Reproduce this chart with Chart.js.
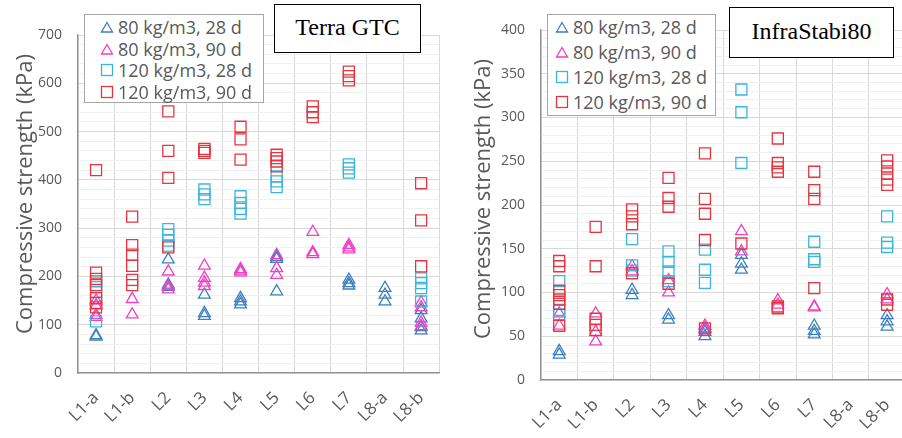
<!DOCTYPE html>
<html>
<head>
<meta charset="utf-8">
<title>Compressive strength - Terra GTC / InfraStabi80</title>
<script src="https://cdn.jsdelivr.net/npm/chart.js@4.4.1/dist/chart.umd.min.js"></script>
<style>
    html, body { margin: 0; padding: 0; background: #fff; }
    body { position: relative; width: 902px; height: 438px; overflow: hidden; }
    canvas { position: absolute; top: 0; }
    #gtc-canvas { left: 0; }
    #infra-canvas { left: 451px; }
    .legend {
        position: absolute; box-sizing: border-box; background: #fff;
        border: 1px solid #a6a6a6;
        font-family: 'Open Sans', sans-serif; font-size: 18px; color: #595959;
    }
    .legend .row { position: absolute; left: 0; height: 24px; line-height: 24px; white-space: nowrap; }
    .legend svg { position: absolute; top: 5px; }
    .legend span { position: absolute; top: 0; }
    .title-box {
        position: absolute; box-sizing: border-box; background: #fff;
        border: 1.5px solid #000; text-align: center;
        font-family: 'Liberation Serif', 'Times New Roman', serif; font-size: 24px; color: #000;
    }
    .axis-title {
        position: absolute; white-space: nowrap; line-height: 1;
        font-family: 'Open Sans', sans-serif; font-size: 22px; color: #595959;
        transform: translate(-50%, -50%) rotate(-90deg);
    }
</style>
</head>
<body>
<canvas id="gtc-canvas" width="451" height="438"></canvas>
<canvas id="infra-canvas" width="466" height="438"></canvas>

<div class="axis-title" style="left:23px; top:194px;">Compressive strength (kPa)</div>
<div class="axis-title" style="left:481px; top:199px;">Compressive strength (kPa)</div>
<div class="legend" id="gtc-legend" style="left:84px; top:14px; width:180px; height:89px;"></div>
<div class="legend" id="infra-legend" style="left:547px; top:14px; width:169px; height:102px;"></div>
<div class="title-box" style="left:274px; top:4px; width:147px; height:49px; line-height:45px;">Terra GTC</div>
<div class="title-box" style="left:729px; top:7px; width:165px; height:51px; line-height:47px;">InfraStabi80</div>

<script>
// categories (test locations) shared by both panels
const categories = ['L1-a', 'L1-b', 'L2', 'L3', 'L4', 'L5', 'L6', 'L7', 'L8-a', 'L8-b'];
const seriesLabels = ['80 kg/m3, 28 d', '80 kg/m3, 90 d', '120 kg/m3, 28 d', '120 kg/m3, 90 d'];

// Terra GTC, kPa - one list of readings per category
const gtc80d28 = [[78, 75], [], [235, 183, 178], [162, 124, 118], [155, 148, 142],
    [240, 236, 169], [], [193, 186, 181], [176, 162, 148], [130, 113, 95, 88]];
const gtc80d90 = [[150, 140, 120, 116], [153, 121], [210, 180, 173], [222, 197, 187, 180], [215, 212, 208],
    [244, 217, 203], [292, 250, 246], [265, 260, 256], [], [146, 136, 104, 97]];
const gtc120d28 = [[190, 178, 168, 107], [], [298, 286, 274, 264], [380, 370, 360], [366, 352, 340, 330],
    [407, 397, 385], [], [432, 424, 415], [], [196, 186, 176, 148]];
const gtc120d90 = [[420, 208, 195, 182, 155, 145, 136], [324, 265, 245, 222, 193, 182], [542, 460, 404, 260],
    [464, 460, 456], [510, 484, 442], [452, 445, 438, 428], [552, 540, 530], [624, 615, 606], [], [393, 316, 221]];

// InfraStabi80, kPa
const infra80d28 = [[33, 29], [], [103, 97], [74, 69], [58, 55, 50],
    [143, 133, 126], [], [62, 56, 52], [], [74, 67, 61]];
const infra80d90 = [[76, 62], [76, 55, 44], [130, 124], [114, 100], [62, 59],
    [170, 147], [91, 86], [84, 83], [], [98, 92]];
const infra120d28 = [[113, 80, 75], [], [161, 131, 125], [147, 135, 124, 113], [149, 126, 111],
    [332, 306, 248], [], [158, 138, 135], [], [187, 157, 152]];
const infra120d90 = [[136, 130, 102, 97, 92, 87, 62], [175, 130, 70, 63, 57], [195, 187, 178, 122],
    [231, 208, 198, 110], [259, 207, 190, 160, 59], [156], [276, 248, 243, 238, 84, 82],
    [238, 217, 207, 105], [], [251, 244, 236, 229, 223, 92, 86]];

const seriesColors = ['#3a80c0', '#f23ec5', '#39b6df', '#e8343f'];
const seriesShapes = ['triangle', 'triangle', 'rect', 'rect'];
const GREY_TEXT = '#595959';

function toPoints(lists) {
    const pts = [];
    lists.forEach((vals, i) => vals.forEach(v => pts.push({ x: categories[i], y: v })));
    return pts;
}

function markerSvg(shape, color) {
    const inner = shape === 'triangle'
        ? '<polygon points="7,2.5 12.5,12 1.5,12" fill="none" stroke="' + color + '" stroke-width="1.3"/>'
        : '<rect x="1.5" y="1.5" width="11" height="11" fill="none" stroke="' + color + '" stroke-width="1.3"/>';
    return '<svg width="14" height="14" viewBox="0 0 14 14">' + inner + '</svg>';
}

function buildLegend(id, firstRow, rowGap, markerX, textX) {
    const box = document.getElementById(id);
    seriesLabels.forEach((label, s) => {
        const row = document.createElement('div');
        row.className = 'row';
        row.style.top = (firstRow + s * rowGap - 12) + 'px';
        row.innerHTML = '<span style="left:' + (markerX - 7) + 'px;position:absolute;top:0">' +
            markerSvg(seriesShapes[s], seriesColors[s]) + '</span>' +
            '<span style="left:' + textX + 'px">' + label + '</span>';
        box.appendChild(row);
    });
}

function buildChart(canvasId, values, cfg) {
    const datasets = seriesLabels.map((label, s) => ({
        label: label,
        data: toPoints(values[s]),
        showLine: false,
        pointStyle: seriesShapes[s],
        pointRadius: seriesShapes[s] === 'rect' ? 7.8 : 6.8,
        pointBorderWidth: 1.3,
        pointBorderColor: seriesColors[s],
        pointBackgroundColor: 'rgba(0,0,0,0)',
        order: 4 - s
    }));

    return new Chart(document.getElementById(canvasId), {
        type: 'scatter',
        data: { labels: categories, datasets: datasets },
        options: {
            responsive: false,
            animation: false,
            events: [],
            layout: { padding: cfg.padding },
            plugins: { legend: { display: false }, tooltip: { enabled: false } },
            scales: {
                x: {
                    type: 'category',
                    labels: categories,
                    offset: true,
                    grid: { offset: true, color: '#d9d9d9', drawTicks: false },
                    border: { color: '#8f8f8f', width: 1.3 },
                    ticks: {
                        minRotation: 45, maxRotation: 45, autoSkip: false, padding: 15,
                        color: GREY_TEXT, font: { family: 'Open Sans', size: 17 }
                    },
                    afterFit: scale => { scale.height = cfg.xHeight; }
                },
                y: {
                    min: 0,
                    max: cfg.max,
                    grid: {
                        drawTicks: false,
                        color: ctx => (ctx.tick && ctx.tick.value % cfg.major === 0 ? '#d9d9d9' : '#f0f0f0')
                    },
                    border: { color: '#8f8f8f', width: 1.3 },
                    ticks: {
                        stepSize: cfg.minor, autoSkip: false, padding: cfg.tickPad,
                        color: GREY_TEXT, font: { family: 'Open Sans', size: 14 },
                        callback: v => (v % cfg.major === 0 ? v : '')
                    },
                    afterFit: scale => { scale.width = cfg.yWidth; }
                }
            }
        }
    });
}

document.addEventListener('DOMContentLoaded', () => {
    buildChart('gtc-canvas', [gtc80d28, gtc80d90, gtc120d28, gtc120d90], {
        max: 700, major: 100, minor: 20,
        padding: { left: 19, top: 35, right: 8, bottom: 0 },
        yWidth: 59, xHeight: 65, tickPad: 16
    });
    buildChart('infra-canvas', [infra80d28, infra80d90, infra120d28, infra120d90], {
        max: 400, major: 50, minor: 10,
        padding: { left: 27, top: 30, right: 7, bottom: 0 },
        yWidth: 63, xHeight: 58, tickPad: 16
    });
    buildLegend('gtc-legend', 12, 21.7, 22, 33);
    buildLegend('infra-legend', 12, 25, 14, 25);
});
</script>
</body>
</html>
